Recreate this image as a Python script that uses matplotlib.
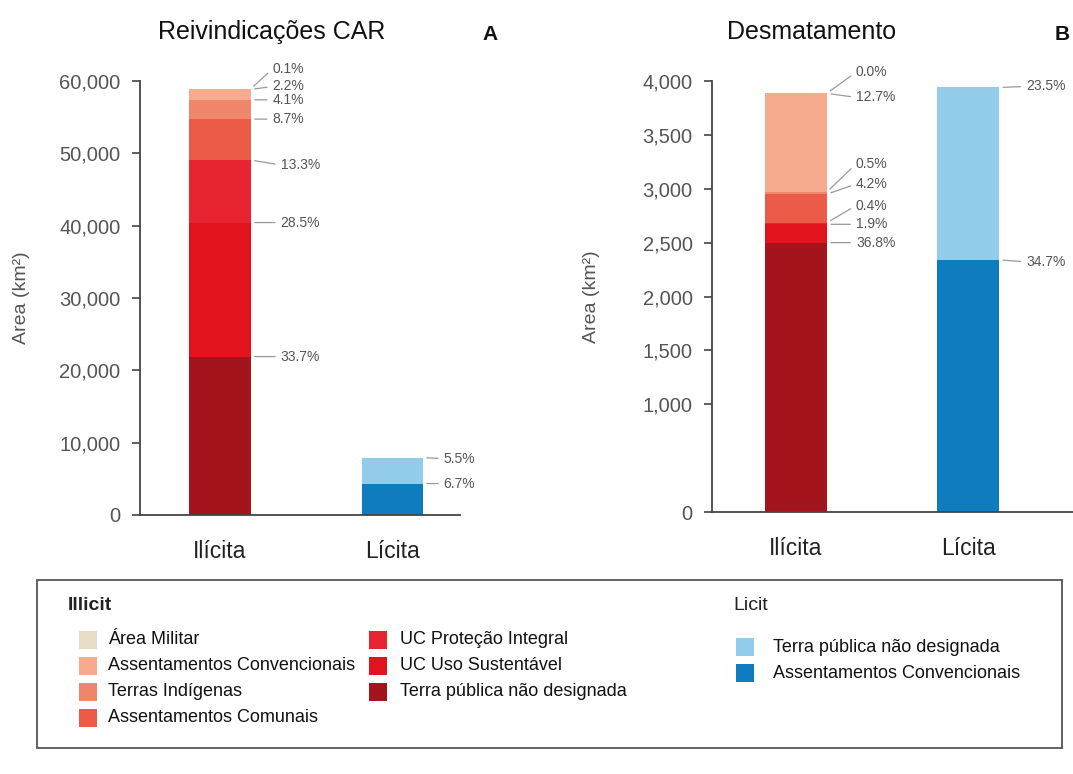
import matplotlib
matplotlib.use("Agg")
import matplotlib.pyplot as plt
from matplotlib.patches import Rectangle

W, H = 1073, 774

# ---------------- data ----------------
categories = ["Ilícita", "Lícita"]
illicit_classes = ["Terra pública não designada", "UC Uso Sustentável", "UC Proteção Integral",
                   "Assentamentos Comunais", "Terras Indígenas", "Assentamentos Convencionais",
                   "Área Militar"]
licit_classes = ["Assentamentos Convencionais", "Terra pública não designada"]

car_illicit = [21900, 18530, 8650, 5650, 2670, 1430, 65]
car_licit = [4350, 3580]
car_illicit_pct = ["33.7%", "28.5%", "13.3%", "8.7%", "4.1%", "2.2%", "0.1%"]
car_licit_pct = ["6.7%", "5.5%"]

def_illicit = [2500, 170, 15, 265, 20, 915, 1]
def_licit = [2340, 1600]
def_illicit_pct = ["36.8%", "1.9%", "0.4%", "4.2%", "0.5%", "12.7%", "0.0%"]
def_licit_pct = ["34.7%", "23.5%"]

car_yticks = [0, 10000, 20000, 30000, 40000, 50000, 60000]
def_yticks = [0, 1000, 1500, 2000, 2500, 3000, 3500, 4000]

# ---------------- style ----------------
illicit_colors = ["#a3141c", "#e3131e", "#e82430", "#ec5b48", "#f0876a", "#f6ab8e", "#e8dcc6"]
licit_colors = ["#0f7cc0", "#93cbea"]

SANS = ["Liberation Sans", "DejaVu Sans"]
plt.rcParams["font.family"] = SANS
AX_COL = "#444444"
TXT_COL = "#555555"
LEAD_COL = "#9a9a9a"

fig = plt.figure(figsize=(W / 100, H / 100), dpi=100)
fig.patch.set_facecolor("white")


def px_axes(l, t, r, b):
    return fig.add_axes([l / W, 1 - b / H, (r - l) / W, (b - t) / H])


def ftext(x, y, s, **kw):
    return fig.text(x / W, 1 - y / H, s, **kw)


def style_axes(ax, yticks, ylim):
    ax.set_ylim(*ylim)
    ax.set_yticks(yticks)
    ax.set_yticklabels([f"{v:,}" for v in yticks], color=TXT_COL, fontsize=14.5)
    for s in ("top", "right"):
        ax.spines[s].set_visible(False)
    for s in ("left", "bottom"):
        ax.spines[s].set_color(AX_COL)
        ax.spines[s].set_linewidth(1.3)
    ax.tick_params(axis="y", direction="out", length=6, width=1.2, color=AX_COL, pad=8)
    ax.tick_params(axis="x", length=0, pad=18)
    ax.set_xticks([0, 1])
    ax.set_xticklabels(categories, fontsize=16.5, color="#222222")
    ax.set_ylabel("Area (km²)", fontsize=14, color=TXT_COL)


def stacked(ax, xpos, values, colors, width):
    bottom = 0
    tops = []
    for v, c in zip(values, colors):
        ax.bar(xpos, v, bottom=bottom, width=width, color=c, edgecolor="none")
        bottom += v
        tops.append(bottom)
    return tops


def leaders(ax, xr, tops, labels, dxs, dys):
    for top, lab, dx, dy in zip(tops, labels, dxs, dys):
        ax.annotate(lab, xy=(xr, top), xytext=(dx * 0.72, dy * 0.72), textcoords="offset points",
                    ha="left", va="center", fontsize=10, color=TXT_COL,
                    arrowprops=dict(arrowstyle="-", color=LEAD_COL, lw=0.9,
                                    relpos=(0, 0.5), shrinkA=2, shrinkB=3),
                    annotation_clip=False)


# ---------------- panel A ----------------
wA = 0.355
axA = px_axes(140, 81, 460, 515)
axA.set_xlim(-0.465, 1.395)
style_axes(axA, car_yticks, (0, 60000))
axA.yaxis.set_label_coords(-0.344, 0.5)
topsA_i = stacked(axA, 0, car_illicit, illicit_colors, wA)
topsA_l = stacked(axA, 1, car_licit, licit_colors, wA)
leaders(axA, 0 + wA / 2, topsA_i, car_illicit_pct,
        [30, 30, 30, 22, 22, 22, 22], [0, 0, -5, 0, 0, 3, 20])
leaders(axA, 1 + wA / 2, topsA_l, car_licit_pct, [21, 21], [0, -1])

# ---------------- panel B ----------------
wB = 0.36
axB = px_axes(712, 81, 1100, 512)
axB.set_xlim(-0.488, 1.767)
style_axes(axB, def_yticks, (0, 4000))
axB.yaxis.set_label_coords(-0.289, 0.5)
topsB_i = stacked(axB, 0, def_illicit, illicit_colors, wB)
topsB_l = stacked(axB, 1, def_licit, licit_colors, wB)
leaders(axB, 0 + wB / 2, topsB_i, def_illicit_pct,
        [29, 29, 29, 29, 29, 29, 29], [0, 0, 17, 10, 28, -4, 21])
leaders(axB, 1 + wB / 2, topsB_l, def_licit_pct, [27, 27], [-2, 1])

# ---------------- titles ----------------
ftext(272, 32, "Reivindicações CAR", ha="center", va="center", fontsize=18, color="#111111")
ftext(490, 34, "A", ha="center", va="center", fontsize=15, fontweight="bold", color="#111111")
ftext(812, 32, "Desmatamento", ha="center", va="center", fontsize=18, color="#111111")
ftext(1062, 34, "B", ha="center", va="center", fontsize=15, fontweight="bold", color="#111111")

# ---------------- legend ----------------
fig.add_artist(Rectangle((37 / W, 1 - 748 / H), (1062 - 37) / W, (748 - 580) / H,
                         transform=fig.transFigure, fill=False, ec="#555555", lw=1.3))
ftext(68, 606, "Illicit", ha="left", va="center", fontsize=14, fontweight="bold", color="#222222")
ftext(733, 606, "Licit", ha="left", va="center", fontsize=14, color="#222222")


def leg_item(xc, yc, color, label, gap):
    fig.add_artist(Rectangle(((xc - 9) / W, 1 - (yc + 9) / H), 18 / W, 18 / H,
                             transform=fig.transFigure, fc=color, ec="none"))
    ftext(xc + gap, yc, label, ha="left", va="center", fontsize=13, color="#111111")


leg_illicit = list(zip(illicit_classes, illicit_colors))[::-1]
col1 = leg_illicit[:4]
col2 = leg_illicit[4:]
for i, (lab, c) in enumerate(col1):
    leg_item(88, 640 + i * 26, c, lab, 20)
for i, (lab, c) in enumerate(col2):
    leg_item(378, 640 + i * 26, c, lab, 22)
leg_licit = list(zip(licit_classes, licit_colors))[::-1]
for i, (lab, c) in enumerate(leg_licit):
    leg_item(745, 647 + i * 26, c, lab, 28)

fig.savefig("out.png", dpi=100, facecolor="white")
